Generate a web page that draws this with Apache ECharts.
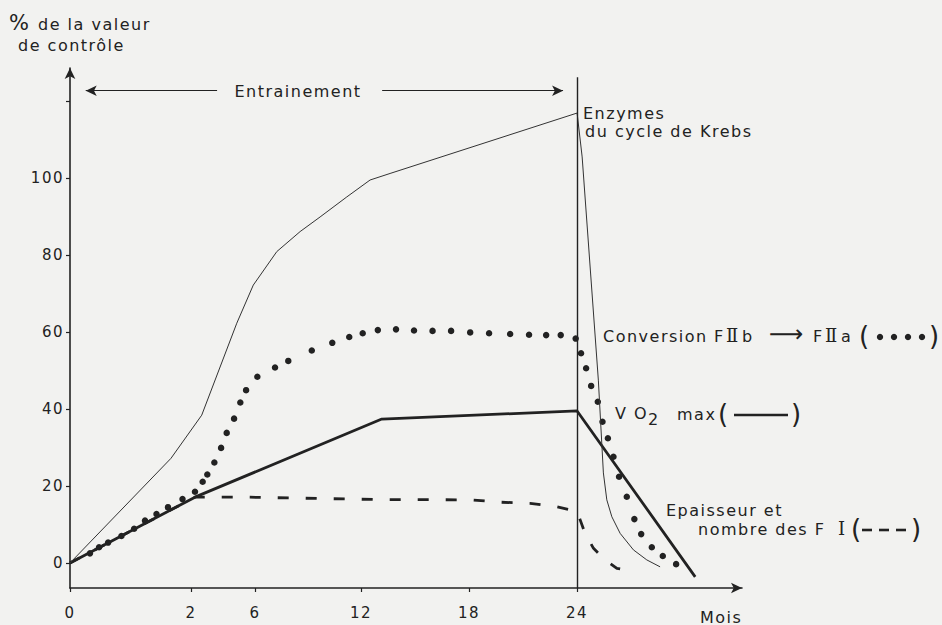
<!DOCTYPE html>
<html><head><meta charset="utf-8">
<script src="https://cdn.jsdelivr.net/npm/echarts@6/dist/echarts.min.js"></script>
<style>
html,body{margin:0;padding:0;background:#f2f2f0;}
#chart{width:942px;height:625px;}
#chart text{letter-spacing:1.5px;}
</style></head><body><div id="chart"></div>
<script>
// ---- data (months, % of control value) ----
const MONTH_TICKS = [0, 2, 6, 12, 18, 24];
const TICK_LABELS = ['0', '2', '6', '12', '18', '24'];
const Y_TICKS = [0, 20, 40, 60, 80, 100, 120];
const Y_LABELS = [0, 20, 40, 60, 80, 100];

const krebs = [[0,0],[1.67,27.2],[2.67,38.4],[4.86,62.3],[5.89,72.2],[7.23,80.9],[8.55,86.1],[9.68,89.9],[11.19,95.1],[12.5,99.5],[13.61,101.2],[24,116.9],[24.28,105.5],[25.18,47.5],[25.46,23.4],[25.65,16.4],[25.93,12.0],[26.39,7.7],[27.13,3.4],[27.87,0.8],[28.61,-1.0]];
const vo2max = [[0,0],[2.25,17.1],[13.15,37.4],[24,39.5],[30.56,-3.6]];
const fibresI = [[0,0],[2.25,17.1],[5.48,17.1],[12.67,16.5],[18.06,16.4],[19.72,15.8],[21.39,15.5],[22.87,14.6],[24,13.4],[24.17,11.2],[24.44,7.7],[24.91,3.8],[25.56,0.8],[26.21,-1.4],[27.22,-2.3]];
const conversion = [[0.33,2.5],[0.48,4.1],[0.63,5.3],[0.85,7.0],[1.06,8.9],[1.24,11.0],[1.43,12.7],[1.62,14.5],[1.86,16.6],[2.25,18.5],[2.73,21.1],[3.02,23.0],[3.46,26.1],[3.88,29.9],[4.23,33.8],[4.69,37.5],[5.08,41.7],[5.44,44.9],[6.13,48.4],[7.13,50.8],[7.88,52.5],[9.21,55.2],[10.37,57.2],[11.33,58.7],[12.09,59.7],[12.93,60.5],[13.94,60.7],[14.94,60.4],[15.97,60.3],[17.0,60.3],[18.06,59.9],[19.11,59.7],[20.28,59.5],[21.33,59.3],[22.28,59.2],[23.09,59.2],[23.92,58.3],[24.22,54.5],[24.5,50.6],[24.78,46.0],[25.15,41.9],[25.41,36.7],[25.71,32.4],[26.02,27.6],[26.33,22.4],[26.76,17.2],[27.18,11.4],[27.56,7.5],[28.15,4.1],[28.76,1.8],[29.5,-0.3]];

// ---- printed time axis is not linear: axis position of each month tick ----
const TICK_POS = [0, 6.72, 10.28, 16.17, 22.17, 28.17];
const X_MAX = 37.33, Y_MIN = -6.5, Y_MAX = 128.6;
function pos(m) {
  for (let i = 1; i < MONTH_TICKS.length; i++) {
    if (m <= MONTH_TICKS[i]) {
      const a = MONTH_TICKS[i-1], b = MONTH_TICKS[i];
      return TICK_POS[i-1] + (m - a) / (b - a) * (TICK_POS[i] - TICK_POS[i-1]);
    }
  }
  const n = MONTH_TICKS.length - 1;
  return TICK_POS[n] + (m - MONTH_TICKS[n]) * (TICK_POS[n] - TICK_POS[n-1]) / (MONTH_TICKS[n] - MONTH_TICKS[n-1]);
}
const toXY = arr => arr.map(([m, v]) => [pos(m), v]);

const INK = '#222';
const FONT = '"DejaVu Sans", sans-serif';
const SERIF = '"DejaVu Serif", serif';
const chart = echarts.init(document.getElementById('chart'), null, {renderer: 'svg'});

function txt(x, y, text, size, align, family) {
  return {type: 'text', x: x, y: y, silent: true,
    style: {text: text, font: (size || 16) + 'px ' + (family || FONT), fill: INK, align: align || 'left', verticalAlign: 'middle'}};
}
function dot(x, y) {
  return {type: 'circle', silent: true, shape: {cx: x, cy: y, r: 3.2}, style: {fill: INK}};
}
function bar(x1, x2, y) {
  return {type: 'line', silent: true, shape: {x1: x1, y1: y, x2: x2, y2: y}, style: {stroke: INK, lineWidth: 2.6}};
}

chart.setOption({
  backgroundColor: '#f2f2f0',
  animation: false,
  textStyle: {fontFamily: FONT, color: INK},
  grid: {left: 70, right: 200, top: 68, bottom: 37},
  xAxis: {
    type: 'value', min: 0, max: X_MAX,
    axisLine: {onZero: false, lineStyle: {color: INK, width: 1.6}, symbol: ['none', 'arrow'], symbolSize: [8, 11]},
    axisTick: {customValues: TICK_POS, length: 4, lineStyle: {color: INK, width: 1.2}},
    axisLabel: {customValues: TICK_POS, margin: 17, fontSize: 15, color: INK,
      formatter: v => { const i = TICK_POS.findIndex(p => Math.abs(p - v) < 1e-6); return i >= 0 ? TICK_LABELS[i] : ''; }},
    splitLine: {show: false}
  },
  yAxis: {
    type: 'value', min: Y_MIN, max: Y_MAX,
    axisLine: {onZero: false, lineStyle: {color: INK, width: 1.6}, symbol: ['none', 'arrow'], symbolSize: [8, 11]},
    axisTick: {customValues: Y_TICKS, length: 4, lineStyle: {color: INK, width: 1.2}},
    axisLabel: {customValues: Y_LABELS, margin: 6, fontSize: 15, color: INK},
    splitLine: {show: false}
  },
  series: [
    {name: 'Epaisseur et nombre des F I', type: 'line', data: toXY(fibresI), symbol: 'none', silent: true,
      lineStyle: {color: INK, width: 2.8, type: [11, 17]}},
    {name: 'V O2 max', type: 'line', data: toXY(vo2max), symbol: 'none', silent: true,
      lineStyle: {color: INK, width: 2.8}},
    {name: 'Enzymes du cycle de Krebs', type: 'line', data: toXY(krebs), symbol: 'none', silent: true,
      lineStyle: {color: '#333', width: 1},
      markLine: {silent: true, symbol: ['none', 'arrow'], symbolSize: [8, 11], label: {show: false},
        lineStyle: {color: INK, width: 1, type: 'solid'},
        data: [
          [{coord: [pos(3.63), 122.7]}, {coord: [pos(0.26), 122.7]}],
          [{coord: [pos(13.17), 122.7]}, {coord: [pos(23.22), 122.7]}],
          [{coord: [pos(24), Y_MIN], symbol: 'none', lineStyle: {width: 1.4}}, {coord: [pos(24), 126.2], symbol: 'none'}]
        ]}},
    {name: 'Conversion F IIb → F IIa', type: 'scatter', data: toXY(conversion), symbol: 'circle', symbolSize: 6.5, silent: true,
      itemStyle: {color: INK, opacity: 1}}
  ],
  graphic: [
    txt(9, 23, '%', 21),
    txt(38, 24, 'de la valeur'),
    txt(18, 45, 'de contrôle'),
    txt(298, 91, 'Entrainement', 16, 'center'),
    txt(583, 113, 'Enzymes'),
    txt(585, 131, 'du cycle de Krebs'),
    // Conversion F IIb -> F IIa ( • • • • )
    txt(603, 336, 'Conversion'),
    txt(714, 336, 'F'),
    txt(726, 335, 'Ⅱ', 18, 'left', SERIF),
    txt(742, 336, 'b'),
    txt(769, 334, '⟶', 24),
    txt(813, 336, 'F'),
    txt(825, 335, 'Ⅱ', 18, 'left', SERIF),
    txt(841, 336, 'a'),
    txt(859, 336, '(', 26),
    dot(880, 337), dot(894, 337), dot(908, 337), dot(922, 337),
    txt(929, 336, ')', 26),
    // V O2 max (——)
    txt(615, 413, 'V O'),
    txt(648, 419, '2'),
    txt(677, 414, 'max'),
    txt(718, 414, '(', 26),
    bar(734, 788, 415),
    txt(791, 414, ')', 26),
    // Epaisseur et nombre des F I (---)
    txt(666, 510, 'Epaisseur et'),
    txt(698, 529, 'nombre des F'),
    txt(838, 528, 'Ⅰ', 18, 'left', SERIF),
    txt(851, 529, '(', 26),
    bar(862, 872, 530), bar(879, 889, 530), bar(896, 906, 530),
    txt(911, 529, ')', 26),
    txt(700, 617, 'Mois')
  ]
});
</script></body></html>
